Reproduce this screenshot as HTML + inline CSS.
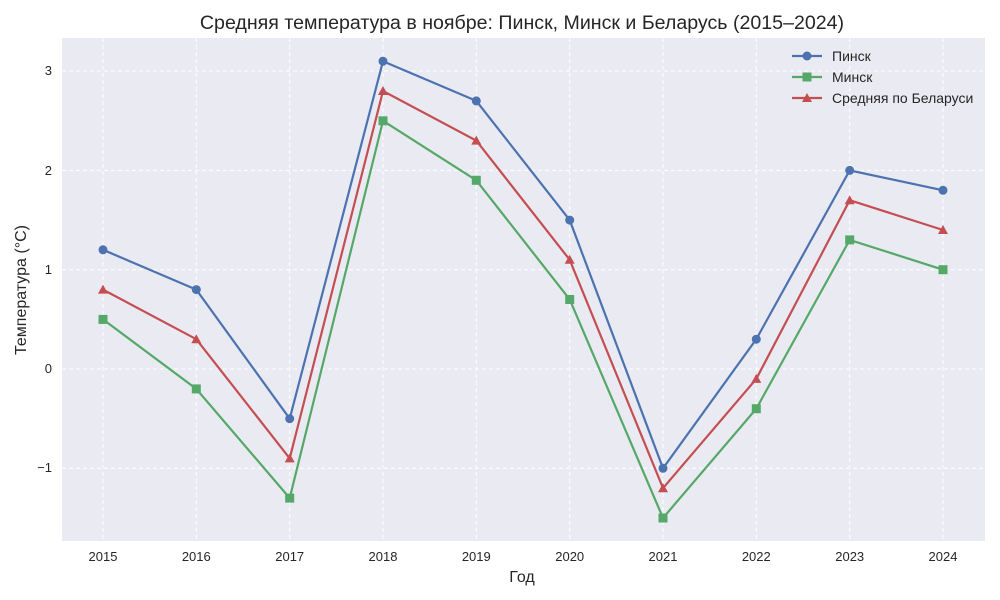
<!DOCTYPE html>
<html><head><meta charset="utf-8"><style>body{margin:0;background:#fff}svg{display:block}text{font-family:"Liberation Sans","DejaVu Sans",sans-serif;fill:#262626}</style></head><body>
<svg width="1000" height="600" viewBox="0 0 1000 600">
<rect x="62" y="38" width="923" height="503" fill="#EAEAF2"/>
<g stroke="#fff" stroke-width="1" stroke-dasharray="4,3">
<line x1="62" x2="985" y1="71" y2="71"/><line x1="62" x2="985" y1="170.4" y2="170.4"/><line x1="62" x2="985" y1="269.7" y2="269.7"/><line x1="62" x2="985" y1="369" y2="369"/><line x1="62" x2="985" y1="468.3" y2="468.3"/>
<line y1="38" y2="541" x1="103" x2="103"/><line y1="38" y2="541" x1="196.3" x2="196.3"/><line y1="38" y2="541" x1="289.7" x2="289.7"/><line y1="38" y2="541" x1="383" x2="383"/><line y1="38" y2="541" x1="476.3" x2="476.3"/><line y1="38" y2="541" x1="569.7" x2="569.7"/><line y1="38" y2="541" x1="663" x2="663"/><line y1="38" y2="541" x1="756.3" x2="756.3"/><line y1="38" y2="541" x1="849.7" x2="849.7"/><line y1="38" y2="541" x1="943" x2="943"/>
</g>
<g font-size="13" text-anchor="end"><text x="52" y="75">3</text><text x="52" y="175">2</text><text x="52" y="274">1</text><text x="52" y="373">0</text><text x="52" y="472">−1</text></g>
<g font-size="13" text-anchor="middle"><text x="103" y="561">2015</text><text x="196.3" y="561">2016</text><text x="289.7" y="561">2017</text><text x="383" y="561">2018</text><text x="476.3" y="561">2019</text><text x="569.7" y="561">2020</text><text x="663" y="561">2021</text><text x="756.3" y="561">2022</text><text x="849.7" y="561">2023</text><text x="943" y="561">2024</text></g>
<text x="522" y="582" font-size="16" text-anchor="middle">Год</text>
<text transform="translate(26,290) rotate(-90)" font-size="16" text-anchor="middle">Температура (°C)</text>
<text x="522" y="29" font-size="19.6" text-anchor="middle">Средняя температура в ноябре: Пинск, Минск и Беларусь (2015–2024)</text>
<g fill="none" stroke-width="2.2">
<polyline stroke="#4C72B0" points="103,249.8 196.3,289.6 289.7,418.7 383,61.2 476.3,100.9 569.7,220.1 663,468.3 756.3,339.2 849.7,170.4 943,190.3"/>
<polyline stroke="#55A868" points="103,319.4 196.3,388.9 289.7,498.1 383,120.8 476.3,180.3 569.7,299.5 663,518 756.3,408.7 849.7,239.9 943,269.7"/>
<polyline stroke="#C44E52" points="103,289.6 196.3,339.2 289.7,458.4 383,91 476.3,140.6 569.7,259.8 663,488.2 756.3,378.9 849.7,200.2 943,230"/>
</g>
<g fill="#4C72B0"><circle cx="103" cy="249.8" r="4.5"/><circle cx="196.3" cy="289.6" r="4.5"/><circle cx="289.7" cy="418.7" r="4.5"/><circle cx="383" cy="61.2" r="4.5"/><circle cx="476.3" cy="100.9" r="4.5"/><circle cx="569.7" cy="220.1" r="4.5"/><circle cx="663" cy="468.3" r="4.5"/><circle cx="756.3" cy="339.2" r="4.5"/><circle cx="849.7" cy="170.4" r="4.5"/><circle cx="943" cy="190.3" r="4.5"/><circle cx="807" cy="56" r="4.5"/></g>
<g fill="#55A868"><rect x="98.5" y="314.9" width="9" height="9"/><rect x="191.8" y="384.4" width="9" height="9"/><rect x="285.2" y="493.6" width="9" height="9"/><rect x="378.5" y="116.3" width="9" height="9"/><rect x="471.8" y="175.8" width="9" height="9"/><rect x="565.2" y="295" width="9" height="9"/><rect x="658.5" y="513.5" width="9" height="9"/><rect x="751.8" y="404.2" width="9" height="9"/><rect x="845.2" y="235.4" width="9" height="9"/><rect x="938.5" y="265.2" width="9" height="9"/><rect x="802.5" y="72.5" width="9" height="9"/></g>
<g fill="#C44E52">
<polygon points="103,284.6 108,293.6 98,293.6"/><polygon points="196.3,334.2 201.3,343.2 191.3,343.2"/><polygon points="289.7,453.4 294.7,462.4 284.7,462.4"/><polygon points="383,86 388,95 378,95"/><polygon points="476.3,135.6 481.3,144.6 471.3,144.6"/><polygon points="569.7,254.8 574.7,263.8 564.7,263.8"/><polygon points="663,483.2 668,492.2 658,492.2"/><polygon points="756.3,373.9 761.3,382.9 751.3,382.9"/><polygon points="849.7,195.2 854.7,204.2 844.7,204.2"/><polygon points="943,225 948,234 938,234"/><polygon points="807,93 812,102 802,102"/></g>
<g stroke-width="2.2"><line x1="792" x2="822" y1="56" y2="56" stroke="#4C72B0"/><line x1="792" x2="822" y1="77" y2="77" stroke="#55A868"/><line x1="792" x2="822" y1="98" y2="98" stroke="#C44E52"/></g>
<g font-size="14"><text x="832" y="61">Пинск</text><text x="832" y="82">Минск</text><text x="832" y="103">Средняя по Беларуси</text></g>
</svg>
</body></html>
